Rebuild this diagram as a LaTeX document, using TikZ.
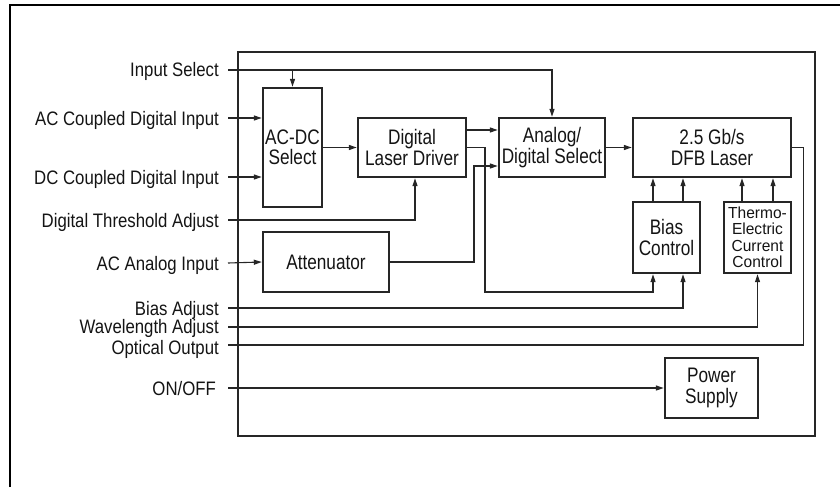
\documentclass[tikz,border=0pt]{standalone}
\usepackage{fontspec}
\setmainfont[FakeStretch=0.86]{Liberation Sans}
\newfontfamily\boxfont[FakeStretch=0.82]{Liberation Sans}
\newfontfamily\tecfont[FakeStretch=0.97]{Liberation Sans}
\usetikzlibrary{arrows.meta}
\begin{document}
\begin{tikzpicture}[x=1pt,y=-1pt,
  font=\fontsize{19.5}{20}\selectfont, text=black!92,
  blk/.style={draw=black!85, line width=2.4pt, inner sep=0pt, align=center,
    font=\boxfont\fontsize{21}{20.5}\selectfont},
  lbl/.style={anchor=east, inner xsep=9pt, inner ysep=0pt, text height=14pt, text depth=0pt},
  wire/.style={draw=black!85, line width=1.1pt},
  arr/.style={wire, -{Triangle[length=8pt,width=5pt]}}]
\useasboundingbox (0,0) rectangle (840,487);
% outer frame (partially visible)
\draw[line width=1.5pt] (10,487) -- (10,5) -- (840,5);
% main enclosure
\node[draw=black!85, line width=2pt, minimum width=577pt, minimum height=384pt, inner sep=0pt] (main) at (526.5,244) {};
% blocks
\node[blk, minimum width=59pt, minimum height=119pt] (acdc) at (292.5,147.5) {AC-DC\\Select};
\node[blk, minimum width=108pt, minimum height=59pt] (drv) at (412,147.5) {Digital\\Laser Driver};
\node[blk, minimum width=106pt, minimum height=59pt] (ads) at (552,147.5) {Analog/\\Digital Select};
\node[blk, minimum width=158pt, minimum height=59pt] (dfb) at (712,147.5) {2.5 Gb/s\\DFB Laser};
\node[blk, minimum width=67pt, minimum height=71pt] (bias) at (666.5,237.5) {Bias\\Control};
\node[blk, minimum width=67pt, minimum height=71pt, font=\tecfont\fontsize{16}{16.5}\selectfont] (tec) at (757.5,237.5) {Thermo-\\Electric\\Current\\Control};
\node[blk, minimum width=126pt, minimum height=60pt] (att) at (326,262) {Attenuator};
\node[blk, minimum width=93pt, minimum height=60pt] (ps) at (711.5,388) {Power\\Supply};
% labels
\node[lbl] (lIS) at (228,70) {Input Select};
\node[lbl] (lAC) at (228,118) {AC Coupled Digital Input};
\node[lbl] (lDC) at (228,177) {DC Coupled Digital Input};
\node[lbl] (lDT) at (228,220) {Digital Threshold Adjust};
\node[lbl] (lAA) at (228,263) {AC Analog Input};
\node[lbl] (lBA) at (228,308) {Bias Adjust};
\node[lbl] (lWA) at (228,326.5) {Wavelength Adjust};
\node[lbl] (lOO) at (228,347) {Optical Output};
\node[lbl, inner xsep=12pt] (lON) at (228,388) {ON/OFF};
% junction coordinates
\coordinate (isb) at (acdc.north |- lIS.east);
\coordinate (j1) at (485,292);
\coordinate (j2) at (474,166);
\coordinate (j3) at ([xshift=11pt]dfb.east);
\coordinate (wa) at ([yshift=-0.5pt]lWA.east);
\coordinate (oo) at ([yshift=2pt]lOO.east);
% connectors
\draw[arr] (lIS.east) -| (ads.north);
\draw[arr] (isb) -- (acdc.north);
\draw[arr] (lAC.east) -- (lAC.east -| acdc.west);
\draw[arr] (lDC.east) -- (lDC.east -| acdc.west);
\draw[arr] (lDT.east) -| ([xshift=3pt]drv.south);
\draw[arr] (lAA.east) -- (att.west);
\draw[arr] (acdc.east) -- (drv.west);
\draw[arr] ([yshift=17.5pt]drv.east) -- ([yshift=17.5pt]ads.west);
\draw[arr] (drv.east) -| (j1) -| ([xshift=-13.5pt]bias.south);
\draw[arr] (att.east) -| (j2) -- (j2 -| ads.west);
\draw[arr] (ads.east) -- (dfb.west);
\draw[arr] ([xshift=-13.5pt]bias.north) -- ([xshift=-13.5pt]bias.north |- dfb.south);
\draw[arr] ([xshift=16.5pt]bias.north) -- ([xshift=16.5pt]bias.north |- dfb.south);
\draw[arr] ([xshift=-15.5pt]tec.north) -- ([xshift=-15.5pt]tec.north |- dfb.south);
\draw[arr] ([xshift=15.5pt]tec.north) -- ([xshift=15.5pt]tec.north |- dfb.south);
\draw[arr] (lBA.east) -| ([xshift=16.5pt]bias.south);
\draw[arr] (wa) -| (tec.south);
\draw[wire] (oo) -| (j3) -- (dfb.east);
\draw[arr] (lON.east) -- (ps.west);
\end{tikzpicture}
\end{document}
